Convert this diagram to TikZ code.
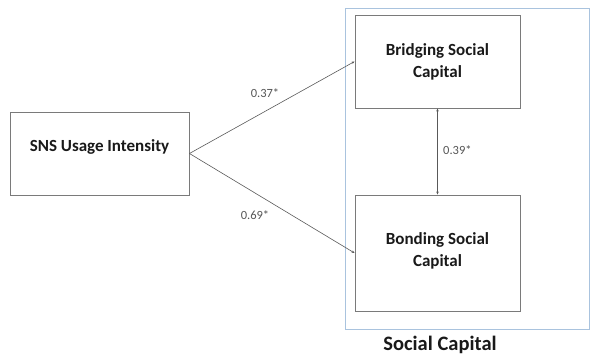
\documentclass[tikz,border=0pt]{standalone}
\usepackage{fontspec}
\setmainfont{Carlito}
\usepackage{xcolor}
\usetikzlibrary{arrows.meta, positioning, calc}

\definecolor{boxline}{HTML}{7A7A7A}
\definecolor{grpline}{HTML}{A9C3DE}
\definecolor{coeftext}{HTML}{555555}

\begin{document}
\begin{tikzpicture}[x=1pt, y=1pt,
    box/.style={draw=boxline, line width=0.9pt, align=center, inner sep=0pt,
        font=\fontsize{17}{22}\selectfont\bfseries, text=black!90},
    coef/.style={font=\fontsize{12.5}{14}\selectfont, text=coeftext, inner sep=1pt},
    link/.style={draw=black!65, line width=0.6pt, -{Stealth[length=3pt, width=2.5pt]}},
    ]
\useasboundingbox (0,0) rectangle (590,357);
% grouping frame
\draw[grpline, line width=0.7pt] (345,28) rectangle (589.5,349);
\node[font=\fontsize{20.5}{24}\selectfont\bfseries, text=black!90] (grp) at (440,12) {Social Capital};

\node[box, minimum width=179pt, minimum height=83pt] (sns) at (99.5,203.5) {SNS Usage Intensity\\[-6pt] \mbox{}};
\node[box, minimum width=165pt, minimum height=93pt] (bridge) at (437.5,295.5) {Bridging Social\\Capital};
\node[box, minimum width=165pt, minimum height=116pt] (bond) at (437.5,104) {Bonding Social\\Capital\\[-15pt] \mbox{}};

\draw[link] (sns.east) -- (bridge.west);
\draw[link] (sns.east) -- (bond.west);
\draw[link, {Stealth[length=3pt, width=2.5pt]}-{Stealth[length=3pt, width=2.5pt]}] (bridge.south) -- (bond.north);

\node[coef] (c1) at (265,264) {0.37*};
\node[coef] (c2) at (255,142) {0.69*};
\node[coef, anchor=west] (c3) at (442,207) {0.39*};
\end{tikzpicture}
\end{document}
